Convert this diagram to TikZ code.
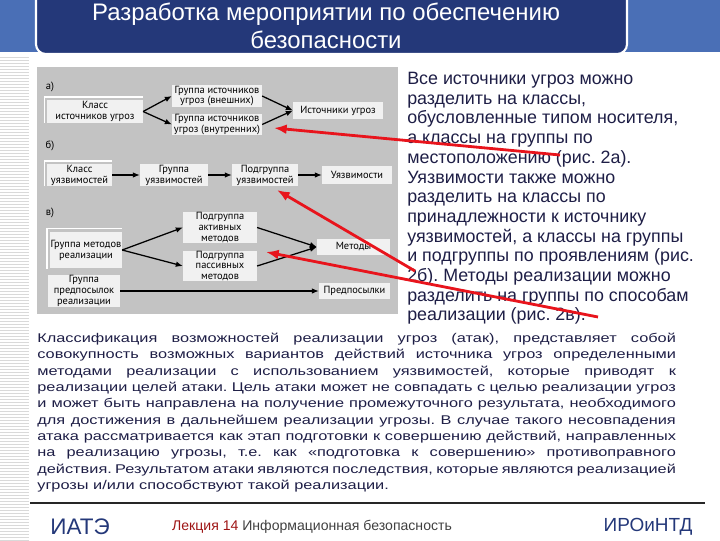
\documentclass[tikz,border=0pt]{standalone}
\usepackage{fontspec}
\setmainfont{Liberation Sans}
\newfontfamily\diagfont{PT Sans}
\usetikzlibrary{arrows.meta, positioning}
\frenchspacing

\definecolor{bandblue}{HTML}{4A6FB6}
\definecolor{titlenavy}{HTML}{243879}
\definecolor{diaggray}{HTML}{C3C3C3}
\definecolor{boxwhite}{HTML}{F1F1F1}
\definecolor{textnavy}{HTML}{1E1E46}
\definecolor{arrowred}{HTML}{E8141C}
\definecolor{lecturered}{HTML}{9E1515}

\tikzset{
  blk/.style={fill=boxwhite, inner sep=0pt, align=center,
    font=\diagfont\fontsize{7.4}{7.8}\selectfont},
  tag/.style={inner sep=0pt, font=\diagfont\fontsize{7.5}{8}\selectfont},
  link/.style={-{Latex[length=5pt,width=4pt]}, line width=0.9pt},
  pointer/.style={-{Latex[length=9pt,width=7pt]}, line width=2pt, arrowred},
}

\begin{document}
\begin{tikzpicture}[x=0.025cm, y=-0.025cm, >=Latex]
  \useasboundingbox (0,0) rectangle (720,540);
  \clip (0,0) rectangle (720,540);

  % header
  \fill[bandblue] (0,0) rectangle (720,52);
  \draw[fill=titlenavy, draw=white, line width=1.5pt, rounded corners=7pt] (36,-20) rectangle (627,54);
  \node[white, align=center, font=\fontsize{17}{20}\selectfont] (title) at (326,26)
    {Разработка мероприятии по обеспечению\\безопасности};

  % left stripes
  \foreach \y in {57,60,...,540}
    \draw[black!15, line width=0.4pt] (0,\y) -- (29,\y);

  % diagram
  \fill[diaggray] (37,67) rectangle (398,314);

  \node[tag] (la) at (50,87) {а)};
  \node[blk, minimum width=68pt, minimum height=16.3pt] (ka) at (95,111.5) {Класс\\источников угроз};
  \node[blk, minimum width=63.8pt, minimum height=15.6pt] (gvn) at (217,96) {Группа источников\\угроз (внешних)};
  \node[blk, minimum width=63.8pt, minimum height=15.6pt] (gvt) at (217,124.5) {Группа источников\\угроз (внутренних)};
  \node[blk, minimum width=63.8pt, minimum height=12pt] (isu) at (338,110.5) {Источники угроз};

  \node[tag] (lb) at (50,146) {б)};
  \node[blk, minimum width=46pt, minimum height=15.6pt] (ku) at (79.5,175) {Класс\\уязвимостей};
  \node[blk, minimum width=48.2pt, minimum height=15.6pt] (gu) at (174,175) {Группа\\уязвимостей};
  \node[blk, minimum width=46.8pt, minimum height=15.6pt] (pu) at (265,175) {Подгруппа\\уязвимостей};
  \node[blk, minimum width=49.6pt, minimum height=12.8pt] (uz) at (357,175) {Уязвимости};

  \node[tag] (lv) at (50,213) {в)};
  \node[blk, minimum width=51pt, minimum height=26pt] (gm) at (86,250) {Группа методов\\реализации};
  \node[blk, minimum width=51pt, minimum height=21.3pt] (gp) at (84,291) {Группа\\предпосылок\\реализации};
  \node[blk, minimum width=52.4pt, minimum height=22pt] (pa) at (220,227.5) {Подгруппа\\активных\\методов};
  \node[blk, minimum width=52.4pt, minimum height=22pt] (pp) at (220,266) {Подгруппа\\пассивных\\методов};
  \node[blk, minimum width=51.7pt, minimum height=11.3pt] (met) at (353.5,247) {Методы};
  \node[blk, minimum width=50.3pt, minimum height=11.3pt] (pre) at (354.5,291) {Предпосылки};

  \foreach \n in {ka,ku,gm}
    \draw[white, line width=0.8pt] ([xshift=-2pt]\n.south west) |- ([yshift=2pt]\n.north east);

  \draw[link] (ka.east) -- (gvn.west);
  \draw[link] (ka.east) -- (gvt.west);
  \draw[link] (gvn.east) -- (isu.west);
  \draw[link] (gvt.east) -- (isu.west);
  \draw[link] (ku) -- (gu);
  \draw[link] (gu) -- (pu);
  \draw[link] (pu) -- (uz);
  \draw[link] (gm.east) -- (pa.west);
  \draw[link] (gm.east) -- (pp.west);
  \draw[link] (pa.east) -- (met.west);
  \draw[link] (pp.east) -- (met.west);
  \draw[link] (gp) -- (pre);

  % right text
  \node[anchor=north west, inner sep=0pt, align=left, textnavy,
    font=\fontsize{12.7}{14}\selectfont] (note) at (407,72)
    {Все источники угроз можно\\
     разделить на классы,\\
     обусловленные типом носителя,\\
     а классы на группы по\\
     местоположению (рис. 2а).\\
     Уязвимости также можно\\
     разделить на классы по\\
     принадлежности к источнику\\
     уязвимостей, а классы на группы\\
     и подгруппы по проявлениям (рис.\\
     2б). Методы реализации можно\\
     разделить на группы по способам\\
     реализации (рис. 2в).};

  % red pointers
  \coordinate (r1a) at (560,155);
  \coordinate (r1b) at (274,128);
  \coordinate (r2a) at (415,271);
  \coordinate (r2b) at (277,190);
  \coordinate (r3a) at (598,317);
  \coordinate (r3b) at (266,252);
  \draw[pointer] (r1a) -- (r1b);
  \draw[pointer] (r2a) -- (r2b);
  \draw[pointer] (r3a) -- (r3b);

  % paragraph
  \node[anchor=north west, inner sep=0pt, text width=352pt, align=justify, textnavy,
    xscale=1.29, transform shape,
    font=\fontsize{9}{11.6}\selectfont] (para) at (37,333)
    {Классификация возможностей реализации угроз (атак), представляет собой\linebreak
     совокупность возможных вариантов действий источника угроз определенными\linebreak
     методами реализации с использованием уязвимостей, которые приводят к\linebreak
     реализации целей атаки. Цель атаки может не совпадать с целью реализации угроз\linebreak
     и может быть направлена на получение промежуточного результата, необходимого\linebreak
     для достижения в дальнейшем реализации угрозы. В случае такого несовпадения\linebreak
     атака рассматривается как этап подготовки к совершению действий, направленных\linebreak
     на реализацию угрозы, т.е. как «подготовка к совершению» противоправного\linebreak
     действия. Результатом атаки являются последствия, которые являются реализацией\linebreak
     угрозы и/или способствуют такой реализации.};
  \draw[black!85, line width=0.8pt] (30,503) -- (705,503);

  % footer
  \node[titlenavy, font=\fontsize{16}{18}\selectfont] (org) at (80,527) {ИАТЭ};
  \node[font=\fontsize{10}{12}\selectfont] (lect) at (312,527)
    {\textcolor{lecturered}{Лекция 14} \textcolor{black!75}{Информационная безопасность}};
  \node[titlenavy, font=\fontsize{13.5}{16}\selectfont] (dept) at (648,527) {ИРОиНТД};
\end{tikzpicture}
\end{document}
